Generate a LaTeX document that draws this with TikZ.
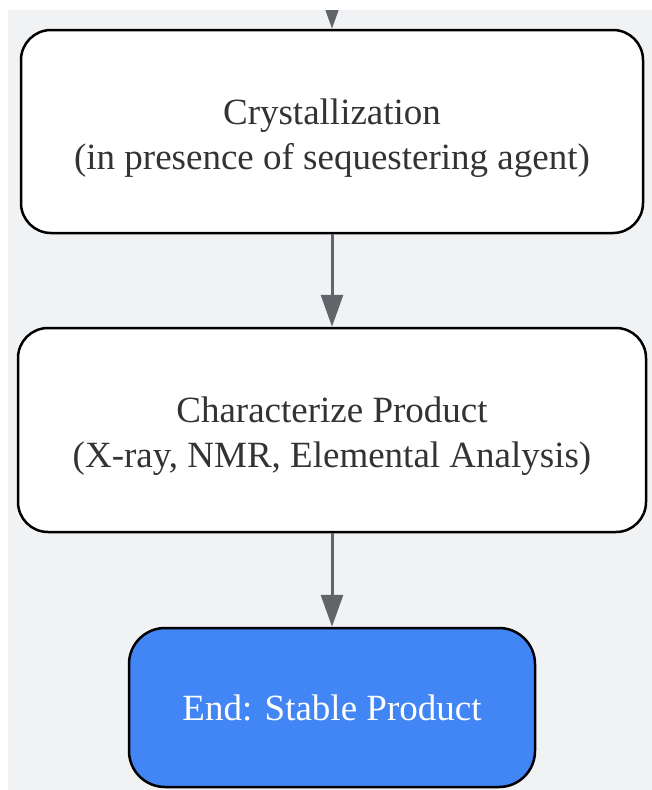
\documentclass[tikz,border=0pt]{standalone}
\usepackage{fontspec}
\setmainfont{Liberation Serif}
\usepackage{tikz}
\usetikzlibrary{positioning,arrows.meta}
\definecolor{bggray}{HTML}{F1F2F4}
\definecolor{endblue}{HTML}{4285F4}
\definecolor{arrowgray}{HTML}{616469}
\definecolor{textgray}{HTML}{333333}

\begin{document}
\begin{tikzpicture}[x=1pt,y=1pt,
	every node/.style={font=\fontsize{37}{45}\selectfont,text=textgray,align=center},
	stepbox/.style={draw=black,line width=2.5pt,fill=white,rounded corners=30pt,inner sep=0pt,text height=83pt},
	endbox/.style={draw=black,line width=2.5pt,fill=endblue,text=white,rounded corners=36pt,inner sep=0pt},
	flow/.style={draw=arrowgray,line width=3pt,-{Triangle[length=32pt,width=22pt]}}]
\useasboundingbox (0,0) rectangle (652,-790);
\fill[bggray] (8,-10) rectangle (652,-790);

\node[stepbox,minimum width=622pt,minimum height=203pt] (cryst) at (332,-131.5)
	{Crystallization\\(in presence of sequestering agent)};
\node[stepbox,minimum width=628pt,minimum height=204pt,below=92.5pt of cryst] (charac)
	{Characterize Product\\(X-ray, NMR, Elemental Analysis)};
\node[endbox,minimum width=406pt,minimum height=159pt,below=93.5pt of charac] (stable)
	{End: Stable Product};

\coordinate (above) at (332,-4);
\begin{scope}
	\clip (8,-10) rectangle (652,-790);
	\draw[flow] (above) -- (cryst.north);
\end{scope}
\draw[flow] (cryst) -- (charac);
\draw[flow] (charac) -- (stable);
\end{tikzpicture}
\end{document}
